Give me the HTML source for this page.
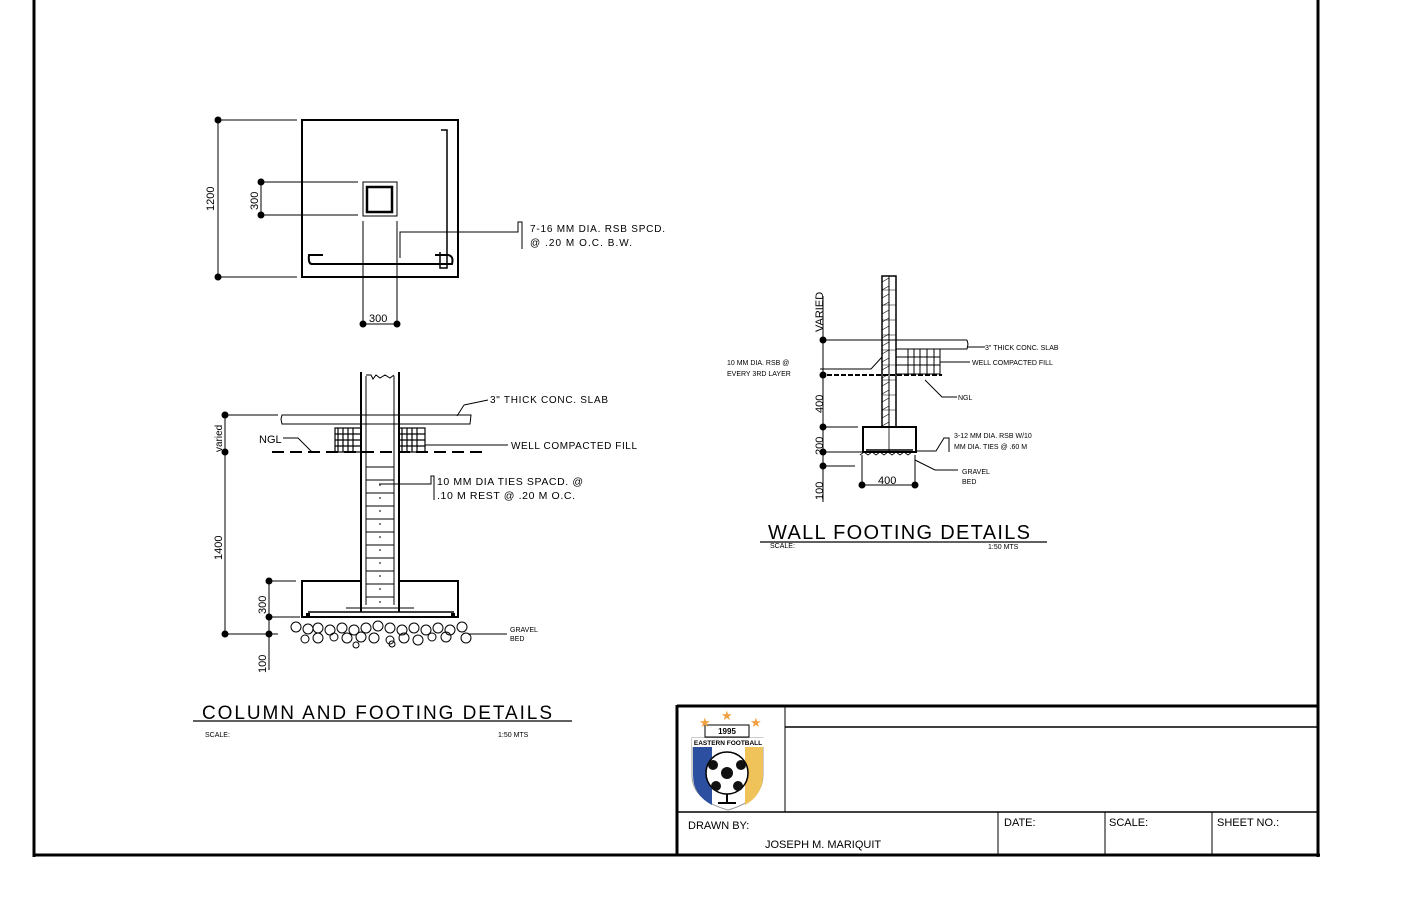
<!DOCTYPE html>
<html><head><meta charset="utf-8"><style>
html,body{margin:0;padding:0;background:#fff;}
svg{display:block;font-family:"Liberation Sans",sans-serif;}
</style></head><body>
<svg width="1423" height="921" viewBox="0 0 1423 921" xmlns="http://www.w3.org/2000/svg">
<rect width="1423" height="921" fill="#fff"/>
<g stroke="#000" fill="none">
<line x1="34" y1="0" x2="34" y2="857" stroke-width="3"/>
<line x1="1318" y1="0" x2="1318" y2="857" stroke-width="3"/>
<line x1="33" y1="855" x2="1320" y2="855" stroke-width="3"/>
<line x1="677" y1="705" x2="677" y2="856" stroke-width="3"/>
<line x1="677" y1="706" x2="1318" y2="706" stroke-width="3"/>
<line x1="785" y1="727" x2="1318" y2="727" stroke-width="1.5"/>
<line x1="785" y1="706" x2="785" y2="812" stroke-width="1"/>
<line x1="677" y1="812" x2="1318" y2="812" stroke-width="1.5"/>
<line x1="998" y1="812" x2="998" y2="855" stroke-width="1"/>
<line x1="1105" y1="812" x2="1105" y2="855" stroke-width="1"/>
<line x1="1212" y1="812" x2="1212" y2="855" stroke-width="1"/>
</g>
<g font-size="11" fill="#000">
<text x="688" y="829">DRAWN BY:</text>
<text x="765" y="848">JOSEPH M. MARIQUIT</text>
<text x="1004" y="826">DATE:</text>
<text x="1109" y="826">SCALE:</text>
<text x="1217" y="826">SHEET NO.:</text>
</g>
<g>
<path d="M692 738 L763 738 L763 775 Q763 800 728 810 Q692 800 692 775 Z" fill="#fff" stroke="#999" stroke-width="1"/>
<path d="M693 738 L712 738 L712 805 Q693 795 693 775 Z" fill="#2c4fa0"/>
<path d="M745 738 L763 738 L763 775 Q763 795 745 805 Z" fill="#f0c25a"/>
<rect x="705" y="725" width="44" height="12" fill="#fff" stroke="#000"/>
<text x="727" y="734" font-size="8" font-weight="bold" text-anchor="middle">1995</text>
<rect x="692" y="738" width="72" height="9" fill="#fff"/>
<text x="728" y="745" font-size="6.5" font-weight="bold" text-anchor="middle">EASTERN FOOTBALL</text>
<circle cx="727" cy="773" r="21" fill="#fff" stroke="#000" stroke-width="1.5"/>
<circle cx="727" cy="773" r="6" fill="#111"/>
<circle cx="713" cy="765" r="5" fill="#111"/><circle cx="741" cy="765" r="5" fill="#111"/>
<circle cx="716" cy="786" r="5" fill="#111"/><circle cx="738" cy="786" r="5" fill="#111"/>
<line x1="727" y1="794" x2="727" y2="802" stroke="#000" stroke-width="2"/>
<line x1="718" y1="803" x2="736" y2="803" stroke="#000" stroke-width="2"/>
<text x="699" y="727" font-size="13" fill="#f0a040">★</text>
<text x="721" y="720" font-size="13" fill="#f0a040">★</text>
<text x="750" y="727" font-size="13" fill="#f0a040">★</text>
</g>

<!-- TOP PLAN -->
<g stroke="#000" fill="none">
<rect x="302" y="120" width="156" height="157" stroke-width="2"/>
<rect x="363" y="182" width="34" height="34" stroke-width="1"/>
<rect x="367" y="187" width="25" height="25" stroke-width="2.5"/>
<line x1="218" y1="120" x2="218" y2="277"/>
<line x1="218" y1="120" x2="297" y2="120"/>
<line x1="218" y1="277" x2="297" y2="277"/>
<line x1="261" y1="182" x2="261" y2="215"/>
<line x1="261" y1="182" x2="358" y2="182"/>
<line x1="261" y1="215" x2="358" y2="215"/>
<line x1="363" y1="221" x2="363" y2="324"/>
<line x1="397" y1="221" x2="397" y2="324"/>
<line x1="363" y1="324" x2="397" y2="324"/>
<path d="M323 255 L309 255 Q308 264 312 264 L452 264 Q454 256 448 255 L435 255" stroke-width="2"/>
<path d="M441 130 L447 130 L447 268 L440 268 L440 252" stroke-width="1.5"/>
<path d="M400 258 L400 232 L518 232 L518 222 L522 222 L522 249" stroke-width="1"/>
</g>
<g fill="#000">
<circle cx="218" cy="120" r="3.5"/><circle cx="218" cy="277" r="3.5"/>
<circle cx="261" cy="182" r="3.5"/><circle cx="261" cy="215" r="3.5"/>
<circle cx="363" cy="324" r="3.5"/><circle cx="397" cy="324" r="3.5"/>
</g>
<g font-size="11" fill="#000">
<text transform="translate(214,211) rotate(-90)">1200</text>
<text transform="translate(258,210) rotate(-90)">300</text>
<text x="369" y="322">300</text>
<text x="530" y="232" font-size="10" textLength="135">7-16 MM DIA. RSB SPCD.</text>
<text x="530" y="246" font-size="10" textLength="102">@ .20 M O.C. B.W.</text>
</g>

<!-- COLUMN SECTION -->
<g stroke="#000" fill="none">
<path d="M361 612 L361 372 M399 372 L399 612" stroke-width="2"/>
<path d="M366 376 L366 605 M394 376 L394 605" stroke-width="1"/>
<path d="M366 375 L371 375 L373 379 L376 375 L380 378 L385 375 L390 378 L394 375" stroke-width="1"/>
<path d="M361 581 L302 581 L302 617 L458 617 L458 581 L399 581" stroke-width="2"/>
<line x1="308" y1="612" x2="454" y2="612" stroke-width="1.5"/>
<line x1="346" y1="608" x2="414" y2="608" stroke-width="1"/>
<path d="M282 415 L471 415 L470 424 L282 424 L281 419 Z" stroke-width="1"/>
<line x1="272" y1="452" x2="488" y2="452" stroke-width="2" stroke-dasharray="12,6"/>
<line x1="225" y1="415" x2="225" y2="634"/>
<line x1="225" y1="415" x2="278" y2="415"/>
<line x1="225" y1="634" x2="270" y2="634"/>
<line x1="269" y1="581" x2="269" y2="670"/>
<line x1="269" y1="581" x2="296" y2="581"/>
<line x1="269" y1="617" x2="300" y2="617"/>
<line x1="269" y1="634" x2="278" y2="634"/>
<path d="M283 438 L298 438 L312 452" />
<path d="M464 405 L457 416 M464 405 L488 400"/>
<path d="M425 445 L508 445"/>
<path d="M379 484 L431 484 L431 476 L434 476 L434 500"/>
<path d="M468 634 L507 634"/>
<line x1="380" y1="484" x2="380" y2="605" stroke-dasharray="2,11"/>
</g>
<g stroke="#000" stroke-width="1">
<line x1="366" y1="467" x2="394" y2="467"/><line x1="366" y1="493" x2="394" y2="493"/>
<line x1="366" y1="519" x2="394" y2="519"/><line x1="366" y1="506" x2="394" y2="506"/>
<line x1="366" y1="532" x2="394" y2="532"/><line x1="366" y1="545" x2="394" y2="545"/>
<line x1="366" y1="558" x2="394" y2="558"/><line x1="366" y1="571" x2="394" y2="571"/>
<line x1="366" y1="584" x2="394" y2="584"/><line x1="366" y1="597" x2="394" y2="597"/>
<line x1="366" y1="480" x2="394" y2="480"/>
</g>
<g stroke="#000" stroke-width="1.2" fill="none">
<rect x="335" y="428" width="26" height="24"/><path d="M338 428v24M343 428v24M348 428v24M353 428v24M335 434h26M335 440h26M335 446h26"/>
<rect x="399" y="428" width="26" height="24"/><path d="M402 428v24M407 428v24M412 428v24M417 428v24M399 434h26M399 440h26M399 446h26"/>
</g>
<g fill="#000">
<circle cx="225" cy="415" r="3.5"/><circle cx="225" cy="452" r="3.5"/><circle cx="225" cy="634" r="3.5"/>
<circle cx="269" cy="581" r="3.5"/><circle cx="269" cy="617" r="3.5"/><circle cx="269" cy="634" r="3.5"/>
<rect x="306" y="613" width="4" height="4"/><rect x="451" y="613" width="4" height="4"/>
</g>
<g stroke="#000" fill="none" stroke-width="1">
<circle cx="296" cy="627" r="5"/><circle cx="308" cy="629" r="5"/><circle cx="318" cy="628" r="5"/><circle cx="330" cy="630" r="5"/><circle cx="342" cy="628" r="5"/><circle cx="354" cy="630" r="5"/><circle cx="366" cy="628" r="5"/><circle cx="378" cy="626" r="5"/><circle cx="390" cy="628" r="5"/><circle cx="402" cy="630" r="5"/><circle cx="414" cy="628" r="5"/><circle cx="426" cy="630" r="5"/><circle cx="438" cy="628" r="5"/><circle cx="450" cy="630" r="5"/><circle cx="462" cy="627" r="5"/><circle cx="466" cy="638" r="5"/>
<circle cx="305" cy="639" r="4"/><circle cx="318" cy="638" r="5"/><circle cx="334" cy="637" r="4"/><circle cx="347" cy="638" r="5"/><circle cx="361" cy="637" r="5"/><circle cx="374" cy="638" r="5"/><circle cx="390" cy="640" r="4"/><circle cx="404" cy="638" r="5"/><circle cx="418" cy="640" r="5"/><circle cx="432" cy="637" r="4"/><circle cx="446" cy="637" r="5"/><circle cx="356" cy="645" r="3"/><circle cx="392" cy="644" r="3"/>
</g>
<g font-size="11" fill="#000">
<text transform="translate(222,452) rotate(-90)" font-size="10">varied</text>
<text transform="translate(222,560) rotate(-90)">1400</text>
<text transform="translate(266,614) rotate(-90)">300</text>
<text transform="translate(266,673) rotate(-90)">100</text>
<text x="259" y="443">NGL</text>
<text x="490" y="403" font-size="10" textLength="118">3" THICK CONC. SLAB</text>
<text x="511" y="449" font-size="10" textLength="126">WELL COMPACTED FILL</text>
<text x="437" y="485" font-size="10.5" textLength="146">10 MM DIA TIES SPACD. @</text>
<text x="437" y="499" font-size="10.5" textLength="138">.10 M REST @ .20 M O.C.</text>
<text x="510" y="632" font-size="7">GRAVEL</text>
<text x="510" y="641" font-size="7">BED</text>
<text x="202" y="719" font-size="19" textLength="350">COLUMN AND FOOTING DETAILS</text>
<text x="205" y="737" font-size="7">SCALE:</text>
<text x="498" y="737" font-size="7">1:50 MTS</text>
</g>
<line x1="193" y1="721" x2="572" y2="721" stroke="#000" stroke-width="1.2"/>

<!-- WALL FOOTING -->
<g stroke="#000" fill="none">
<rect x="882" y="276" width="14" height="151" stroke-width="1.5"/>
<line x1="889" y1="276" x2="889" y2="427" stroke-width="1"/>
<path d="M882 290h14M882 305h14M882 320h14M882 335h14M882 350h14M882 365h14M882 380h14M882 395h14M882 410h14" stroke-width="0.6"/>
<path d="M882 282l7 -4M882 290l7 -4M882 298l7 -4M882 306l7 -4M882 314l7 -4M882 322l7 -4M882 330l7 -4M882 338l7 -4M882 346l7 -4M882 354l7 -4M882 362l7 -4M882 370l7 -4M882 378l7 -4M882 386l7 -4M882 394l7 -4M882 402l7 -4M882 410l7 -4M882 418l7 -4M882 426l7 -4" stroke-width="0.6"/>
<rect x="863" y="427" width="53" height="25" stroke-width="2"/>
<line x1="889" y1="427" x2="889" y2="452" stroke-width="0.8"/>
<line x1="866" y1="450" x2="913" y2="450" stroke-width="1.5"/>
<path d="M860 455 l4 -3 l4 3 l4 -3 l4 3 l4 -3 l4 3 l4 -3 l4 3 l4 -3 l4 3 l4 -3 l4 3 l4 -3" stroke-width="0.8"/>
<line x1="823" y1="296" x2="823" y2="502"/>
<line x1="823" y1="340" x2="967" y2="340"/>
<path d="M896 349 L967 349 L968 344 L967 340"/>
<line x1="820" y1="375" x2="942" y2="375" stroke-width="2" stroke-dasharray="5,2"/>
<line x1="823" y1="427" x2="858" y2="427"/>
<line x1="823" y1="452" x2="862" y2="452"/>
<line x1="823" y1="466" x2="855" y2="466"/>
<line x1="862" y1="455" x2="862" y2="485"/>
<line x1="915" y1="455" x2="915" y2="485"/>
<line x1="862" y1="485" x2="915" y2="485"/>
<path d="M820 369 L871 369 L882 357"/>
<path d="M967 347 L985 347"/>
<path d="M940 362 L970 362"/>
<path d="M925 380 L942 397 L957 397"/>
<path d="M916 451 L936 451 L944 438 L949 438 L949 452"/>
<path d="M915 460 L935 470 L958 470"/>
</g>
<g stroke="#000" stroke-width="1" fill="none">
<rect x="908" y="349" width="32" height="25"/><path d="M914 349v25M920 349v25M927 349v25M934 349v25M896 357h44M896 365h44"/>
<rect x="896" y="357" width="12" height="17"/>
</g>
<g fill="#000">
<circle cx="823" cy="340" r="3.5"/><circle cx="823" cy="375" r="3.5"/><circle cx="823" cy="427" r="3.5"/>
<circle cx="823" cy="452" r="3.5"/><circle cx="823" cy="466" r="3.5"/>
<circle cx="862" cy="485" r="3.5"/><circle cx="915" cy="485" r="3.5"/>
</g>
<g font-size="11" fill="#000">
<text transform="translate(823,332) rotate(-90)">VARIED</text>
<text transform="translate(823,413) rotate(-90)">400</text>
<text transform="translate(823,455) rotate(-90)">200</text>
<text transform="translate(823,500) rotate(-90)">100</text>
<text x="878" y="484">400</text>
<g font-size="7">
<text x="727" y="365">10 MM DIA. RSB @</text>
<text x="727" y="376">EVERY 3RD LAYER</text>
<text x="985" y="350">3" THICK CONC. SLAB</text>
<text x="972" y="365">WELL COMPACTED FILL</text>
<text x="958" y="400">NGL</text>
<text x="954" y="438">3-12 MM DIA. RSB W/10</text>
<text x="954" y="449">MM DIA. TIES @ .60 M</text>
<text x="962" y="474">GRAVEL</text>
<text x="962" y="484">BED</text>
<text x="770" y="548">SCALE:</text>
<text x="988" y="549">1:50 MTS</text>
</g>
<text x="768" y="539" font-size="20" textLength="262">WALL FOOTING DETAILS</text>
</g>
<line x1="760" y1="542" x2="1047" y2="542" stroke="#000" stroke-width="1.2"/>
</svg>
</body></html>
